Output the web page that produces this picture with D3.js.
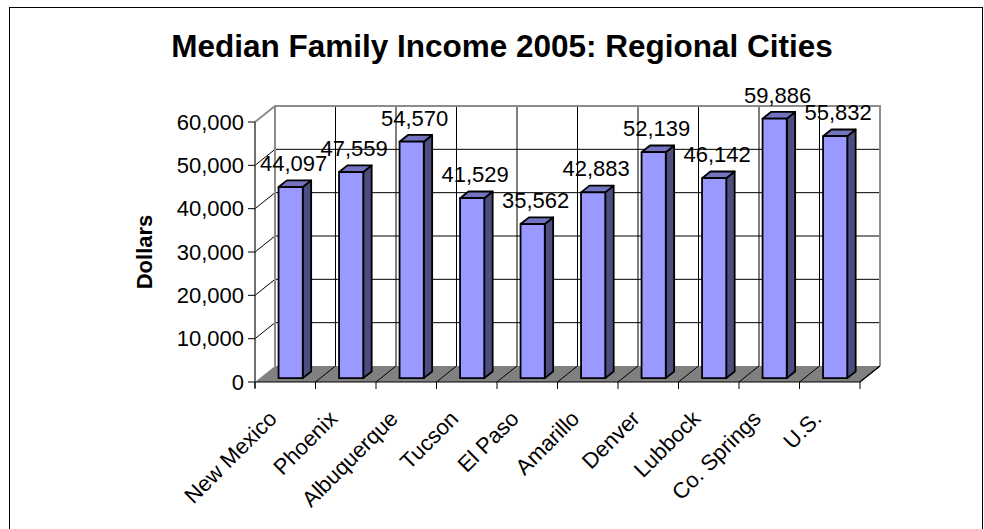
<!DOCTYPE html>
<html>
<head>
<meta charset="utf-8">
<script src="https://cdn.jsdelivr.net/npm/d3@7/dist/d3.min.js"></script>
<style>
  html, body { margin: 0; padding: 0; background: #fff; }
  svg { display: block; font-family: "Liberation Sans", Arial, sans-serif; }
</style>
</head>
<body>
<svg id="chart" width="984" height="529"></svg>
<script>
// Median family income, 2005
const cities = ["New Mexico", "Phoenix", "Albuquerque", "Tucson", "El Paso",
                "Amarillo", "Denver", "Lubbock", "Co. Springs", "U.S."];
const income = [44097, 47559, 54570, 41529, 35562, 42883, 52139, 46142, 59886, 55832];
const yTicks = [0, 10000, 20000, 30000, 40000, 50000, 60000];
const titleText = "Median Family Income 2005: Regional Cities";
const yTitle = "Dollars";

const svg = d3.select("#chart");

// Plot box (front plane) and 3-D depth offset
const plotL = 255, plotR = 860, plotB = 382, plotT = 122;
const DX = 20, DY = -16;          // full depth of the box
const F0 = 0.24, F1 = 0.66;       // bar front / back depth fractions

const x = d3.scaleBand().domain(cities).range([plotL, plotR]).padding(0);
const y = d3.scaleLinear().domain([0, 60000]).range([plotB, plotT]);
const bw = x.bandwidth();
const fmt = d3.format(",");

const P = (xf, v, f) => [xf + DX * f, y(v) + DY * f];
const poly = pts => "M" + pts.map(p => p.join(",")).join("L") + "Z";

// Outer frame
svg.append("rect")
  .attr("x", 9.5).attr("y", 7.5).attr("width", 973).attr("height", 540)
  .attr("fill", "#fff").attr("stroke", "#000").attr("stroke-width", 1);

// Title
svg.append("text")
  .attr("x", 502).attr("y", 57)
  .attr("text-anchor", "middle")
  .attr("font-weight", "bold").attr("font-size", 31.5)
  .text(titleText);

// Axis title
svg.append("text")
  .attr("transform", "translate(152,252) rotate(-90)")
  .attr("text-anchor", "middle")
  .attr("font-weight", "bold").attr("font-size", 22)
  .text(yTitle);

const g = svg.append("g");

// Back wall and side wall
g.append("path")
  .attr("d", poly([P(plotL, 0, 1), P(plotR, 0, 1), P(plotR, 60000, 1), P(plotL, 60000, 1)]))
  .attr("fill", "#fff");
g.append("path")
  .attr("d", poly([P(plotL, 0, 0), P(plotL, 0, 1), P(plotL, 60000, 1), P(plotL, 60000, 0)]))
  .attr("fill", "#fff");

// Horizontal gridlines on back wall and side wall
const inner = yTicks.filter(t => t > 0 && t < 60000);
g.selectAll(".hgrid").data(inner).join("path")
  .attr("d", t => "M" + P(plotL, t, 0) + "L" + P(plotL, t, 1) + "L" + P(plotR, t, 1))
  .attr("fill", "none").attr("stroke", "#000").attr("stroke-width", 1);

// Vertical gridlines on back wall at category boundaries
const bounds = cities.map(c => x(c)).concat([plotR]);
g.selectAll(".vgrid").data(bounds.slice(1, -1)).join("path")
  .attr("d", b => "M" + P(b, 0, 1) + "L" + P(b, 60000, 1))
  .attr("fill", "none").attr("stroke", "#000").attr("stroke-width", 1);

// Wall borders
g.append("path")
  .attr("d", "M" + P(plotL, 60000, 0) + "L" + P(plotL, 60000, 1) + "L" + P(plotR, 60000, 1) +
             "L" + P(plotR, 0, 1))
  .attr("fill", "none").attr("stroke", "#8c8c8c").attr("stroke-width", 2);
g.append("path")
  .attr("d", "M" + P(plotL, 0, 1) + "L" + P(plotL, 60000, 1))
  .attr("fill", "none").attr("stroke", "#8c8c8c").attr("stroke-width", 2);

// Floor
g.append("path")
  .attr("d", poly([P(plotL, 0, 0), P(plotR, 0, 0), P(plotR, 0, 1), P(plotL, 0, 1)]))
  .attr("fill", "#808080");
g.selectAll(".fgrid").data(bounds.slice(1)).join("path")
  .attr("d", b => "M" + P(b, 0, 0) + "L" + P(b, 0, 1))
  .attr("fill", "none").attr("stroke", "#000").attr("stroke-width", 1);

// Bars
const bars = g.selectAll(".bar").data(cities.map((c, i) => ({ c, v: income[i] })))
  .join("g").attr("class", "bar");
const x0 = d => x(d.c) + 0.31 * bw;
const x1 = d => x(d.c) + 0.71 * bw;
const stroke = sel => sel.attr("stroke", "#000").attr("stroke-width", 1.8)
  .attr("stroke-linejoin", "round");

bars.append("path")
  .attr("d", d => poly([P(x1(d), 0, F0), P(x1(d), 0, F1), P(x1(d), d.v, F1), P(x1(d), d.v, F0)]))
  .attr("fill", "#4d4d80").call(stroke);
bars.append("path")
  .attr("d", d => poly([P(x0(d), d.v, F0), P(x1(d), d.v, F0), P(x1(d), d.v, F1), P(x0(d), d.v, F1)]))
  .attr("fill", "#7373bf").call(stroke);
bars.append("path")
  .attr("d", d => poly([P(x0(d), 0, F0), P(x1(d), 0, F0), P(x1(d), d.v, F0), P(x0(d), d.v, F0)]))
  .attr("fill", "#9999ff").call(stroke);

// Axes
const axisG = svg.append("g");
axisG.append("path")
  .attr("d", `M${plotL},${plotB}H${plotR}L${plotR + DX},${plotB + DY}`)
  .attr("fill", "none").attr("stroke", "#000").attr("stroke-width", 1.2);
axisG.append("path")
  .attr("d", `M${plotL},${plotB + 6}V${plotT}`)
  .attr("fill", "none").attr("stroke", "#404040").attr("stroke-width", 1.5);
axisG.selectAll(".xt").data(bounds).join("line")
  .attr("x1", b => b).attr("x2", b => b)
  .attr("y1", plotB).attr("y2", plotB + 7)
  .attr("stroke", "#000").attr("stroke-width", 1);
axisG.selectAll(".yt").data(yTicks).join("line")
  .attr("x1", plotL - 7).attr("x2", plotL)
  .attr("y1", t => y(t)).attr("y2", t => y(t))
  .attr("stroke", "#000").attr("stroke-width", 1);
axisG.selectAll(".ytl").data(yTicks).join("text")
  .attr("x", plotL - 11).attr("y", t => y(t)).attr("dy", "0.35em")
  .attr("text-anchor", "end").attr("font-size", 22)
  .text(t => fmt(t));

// Category labels
axisG.selectAll(".xtl").data(cities).join("text")
  .attr("transform", c => `translate(${x(c) + bw / 2 - 7},${plotB + 38}) rotate(-45)`)
  .attr("text-anchor", "end").attr("font-size", 22)
  .text(c => c);

// Value labels
svg.selectAll(".vl").data(cities.map((c, i) => ({ c, v: income[i] }))).join("text")
  .attr("x", d => P((x0(d) + x1(d)) / 2, d.v, F0)[0] + 3)
  .attr("y", d => P(0, d.v, F0)[1] - 16)
  .attr("text-anchor", "middle").attr("font-size", 22)
  .text(d => fmt(d.v));
</script>
</body>
</html>
